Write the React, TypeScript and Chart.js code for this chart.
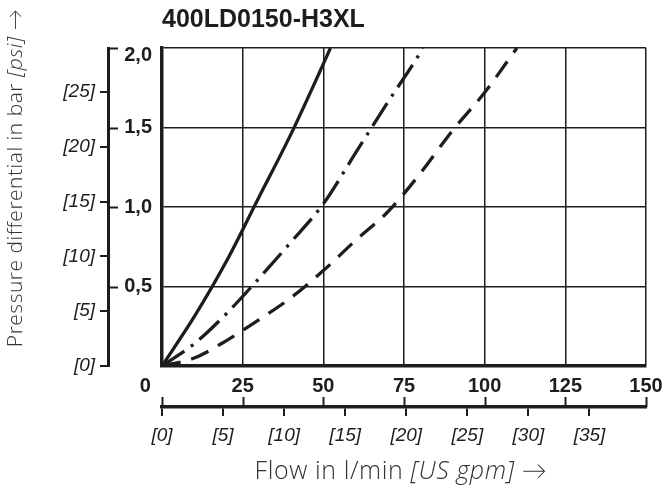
import React, { useEffect, useRef } from "react";
import { Chart, registerables } from "chart.js";

Chart.register(...registerables);

// ---- data ----
const chartTitle = "400LD0150-H3XL";

const solidFlow = [0, 10, 20, 30, 40, 50, 52.2];
const solidDp = [0, 0.31, 0.66, 1.06, 1.46, 1.9, 2.0];

const dashDotFlow = [0, 10, 20, 30, 40, 50, 60, 70, 80, 80.8];
const dashDotDp = [0, 0.14, 0.33, 0.55, 0.78, 1.02, 1.34, 1.66, 1.97, 2.0];

const dashFlow = [0, 10, 20, 30, 40, 50, 60, 70, 80, 90, 100, 110];
const dashDp = [0, 0.05, 0.16, 0.29, 0.43, 0.6, 0.79, 0.97, 1.21, 1.48, 1.72, 2.0];

const flowTicks = [0, 25, 50, 75, 100, 125, 150];
const gpmTicks = [0, 5, 10, 15, 20, 25, 30, 35];
const barTicks = [0, 0.5, 1.0, 1.5, 2.0];
const psiTicks = [0, 5, 10, 15, 20, 25];

const LPM_PER_GPM = 3.78541;
const PSI_PER_BAR = 14.5038;

const xTitleParts = [
  { text: "Flow in l/min ", italic: false },
  { text: "[US gpm]", italic: true },
  { text: " \u2192", italic: false },
];
const yTitleParts = [
  { text: "Pressure differential in bar ", italic: false },
  { text: "[psi]", italic: true },
  { text: " \u2192", italic: false },
];

const INK = "#1d1d1b";
const TITLE_INK = "#333333";
const SANS = "'Liberation Sans', Arial, sans-serif";
const LIGHT = "'Open Sans', Lato, sans-serif";

function toPoints(xs: number[], ys: number[]) {
  return xs.map((v, i) => ({ x: v, y: ys[i] }));
}

function drawParts(
  ctx: CanvasRenderingContext2D,
  parts: { text: string; italic: boolean }[],
  size: number,
  spacing: number
) {
  const fontFor = (it: boolean) => `${it ? "italic " : ""}300 ${size}px ${LIGHT}`;
  (ctx as any).letterSpacing = `${spacing}px`;
  let total = 0;
  for (const p of parts) {
    ctx.font = fontFor(p.italic);
    total += ctx.measureText(p.text).width;
  }
  let cx = -total / 2;
  for (const p of parts) {
    ctx.font = fontFor(p.italic);
    ctx.fillText(p.text, cx, 0);
    cx += ctx.measureText(p.text).width;
  }
  (ctx as any).letterSpacing = "0px";
}

const extraMarks = {
  id: "extraMarks",
  afterDraw(chart: any) {
    const ctx: CanvasRenderingContext2D = chart.ctx;
    const { x, x2, y, psi } = chart.scales;
    ctx.save();
    ctx.strokeStyle = INK;
    ctx.lineWidth = 2;
    ctx.beginPath();
    for (const v of barTicks) {
      if (v === 0) continue;
      const py = Math.round(y.getPixelForValue(v)) + 0.5;
      ctx.moveTo(psi.right, py);
      ctx.lineTo(psi.right + 10, py);
    }
    for (const v of flowTicks) {
      const px = Math.round(x.getPixelForValue(v)) + 0.5;
      ctx.moveTo(px, x2.top - 10);
      ctx.lineTo(px, x2.top);
    }
    ctx.stroke();

    ctx.fillStyle = TITLE_INK;
    ctx.textBaseline = "middle";
    ctx.textAlign = "left";
    // x axis title
    ctx.save();
    ctx.translate((chart.chartArea.left + chart.chartArea.right) / 2 - 3, 472);
    drawParts(ctx, xTitleParts, 25, 0.6);
    ctx.restore();
    // y axis title
    ctx.save();
    ctx.translate(16, 178);
    ctx.rotate(-Math.PI / 2);
    drawParts(ctx, yTitleParts, 21, 0.5);
    ctx.restore();
    ctx.restore();
  },
};

export default function App() {
  const ref = useRef<HTMLCanvasElement | null>(null);

  useEffect(() => {
    if (!ref.current) return;
    const lineCommon = {
      borderColor: INK,
      borderWidth: 3.3,
      pointRadius: 0,
      fill: false,
      cubicInterpolationMode: "monotone" as const,
      borderCapStyle: "butt" as const,
    };
    const noHPad = (s: any) => {
      s.paddingLeft = 0;
      s.paddingRight = 0;
    };
    const noVPad = (s: any) => {
      s.paddingTop = 0;
      s.paddingBottom = 0;
    };
    const chart = new Chart(ref.current, {
      type: "line",
      data: {
        datasets: [
          { ...lineCommon, label: "solid", data: toPoints(solidFlow, solidDp) },
          {
            ...lineCommon,
            label: "dash-dot",
            data: toPoints(dashDotFlow, dashDotDp),
            borderDash: [27, 8, 3, 8],
          },
          {
            ...lineCommon,
            label: "dash",
            data: toPoints(dashFlow, dashDp),
            borderDash: [19, 11],
          },
        ],
      },
      options: {
        responsive: false,
        animation: false,
        events: [],
        layout: { padding: { left: 0, right: 17, top: 0, bottom: 0 } },
        plugins: {
          legend: { display: false },
          tooltip: { enabled: false },
          title: {
            display: true,
            text: chartTitle,
            align: "start",
            fullSize: false,
            color: INK,
            font: { family: SANS, size: 25, weight: "bold", lineHeight: 1.0 },
            padding: { top: 8, bottom: 15 },
          },
        },
        scales: {
          x: {
            type: "linear",
            position: "bottom",
            min: 0,
            max: 150,
            weight: 0,
            afterBuildTicks: (s: any) => {
              s.ticks = flowTicks.map((v) => ({ value: v }));
            },
            afterFit: (s: any) => {
              s.height = 41;
              noHPad(s);
            },
            ticks: {
              autoSkip: false,
              maxRotation: 0,
              padding: 8,
              color: INK,
              font: { family: SANS, size: 20, weight: "bold" },
              callback: (v: any) => (v === 0 ? "0\u2007\u2007\u2007" : String(v)),
            },
            grid: { drawTicks: false, color: INK, lineWidth: 1.5 },
            border: { display: true, color: INK, width: 3.5 },
          },
          x2: {
            type: "linear",
            position: "bottom",
            min: 0,
            max: 150 / LPM_PER_GPM,
            weight: 10,
            afterBuildTicks: (s: any) => {
              s.ticks = gpmTicks.map((v) => ({ value: v }));
            },
            afterFit: (s: any) => {
              s.height = 87;
              noHPad(s);
            },
            ticks: {
              autoSkip: false,
              maxRotation: 0,
              padding: 8,
              color: INK,
              font: { family: SANS, size: 19, style: "italic" },
              callback: (v: any) => `[${v}]`,
            },
            grid: { drawOnChartArea: false, drawTicks: true, tickLength: 9, color: INK, lineWidth: 2 },
            border: { display: true, color: INK, width: 3.5 },
          },
          y: {
            type: "linear",
            position: "left",
            min: 0,
            max: 2,
            weight: 0,
            afterBuildTicks: (s: any) => {
              s.ticks = barTicks.map((v) => ({ value: v }));
            },
            afterFit: (s: any) => {
              s.width = 54;
              noVPad(s);
            },
            ticks: {
              autoSkip: false,
              padding: 10,
              color: INK,
              font: { family: SANS, size: 20, weight: "bold", lineHeight: 0.7 },
              callback: (v: any) => {
                if (v === 0) return "";
                const t = Number(v).toFixed(1).replace(".", ",");
                return v === 2 ? ["", t] : t;
              },
            },
            grid: { drawTicks: false, color: INK, lineWidth: 1.5 },
            border: { display: true, color: INK, width: 3.5 },
          },
          psi: {
            type: "linear",
            position: "left",
            min: 0,
            max: 2 * PSI_PER_BAR,
            weight: 10,
            afterBuildTicks: (s: any) => {
              s.ticks = psiTicks.map((v) => ({ value: v }));
            },
            afterFit: (s: any) => {
              s.width = 108;
              noVPad(s);
            },
            ticks: {
              autoSkip: false,
              padding: 5,
              color: INK,
              font: { family: SANS, size: 19, style: "italic" },
              callback: (v: any) => `[${v}]`,
            },
            grid: { drawOnChartArea: false, drawTicks: true, tickLength: 8, color: INK, lineWidth: 2 },
            border: { display: true, color: INK, width: 3 },
          },
        },
      },
      plugins: [extraMarks],
    } as any);
    return () => chart.destroy();
  }, []);

  return (
    <div style={{ position: "absolute", left: 0, top: 0, width: 663, height: 494, background: "#fff" }}>
      <canvas ref={ref} width={663} height={494} style={{ display: "block" }} />
    </div>
  );
}
